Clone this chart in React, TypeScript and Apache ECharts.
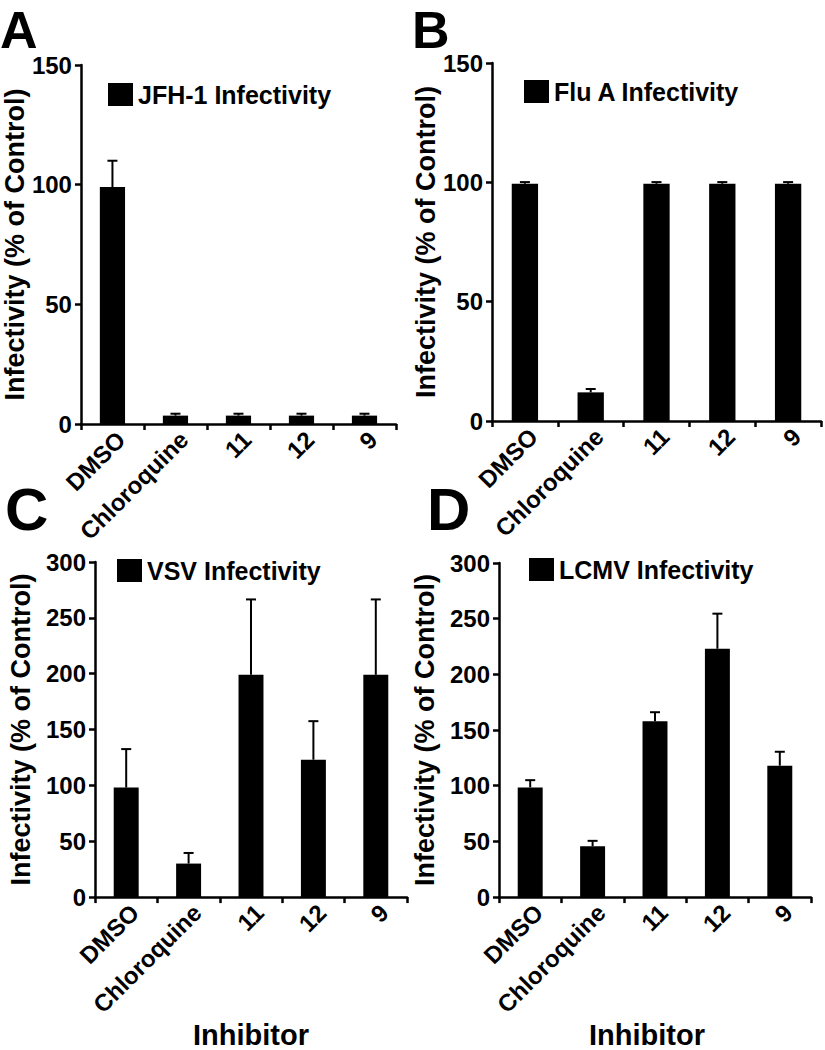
import React, { useEffect, useRef } from "react";
import * as echarts from "echarts";

const categories = ["DMSO", "Chloroquine", "11", "12", "9"];

const jfhMean = [99, 3.5, 3.5, 3.5, 3.5];
const jfhErr = [11, 0.8, 0.8, 0.8, 0.8];

const fluMean = [99.4, 12, 99.4, 99.4, 99.4];
const fluErr = [0.7, 1.4, 0.7, 0.7, 0.7];

const vsvMean = [98, 30, 199, 123, 199];
const vsvErr = [34.5, 9.5, 67.5, 34.5, 67.5];

const lcmvMean = [98.5, 45.7, 158, 223, 118];
const lcmvErr = [6.5, 4.8, 8, 31.5, 12.5];

const panelNames = ["JFH-1 Infectivity", "Flu A Infectivity", "VSV Infectivity", "LCMV Infectivity"];
const panelLetters = ["A", "B", "C", "D"];
const yMax = [150, 150, 300, 300];
const yAxisTitle = "Infectivity (% of Control)";
const xAxisTitle = "Inhibitor";

const FONT = "'Liberation Sans', Arial, Helvetica, sans-serif";

export default function App() {
  const ref = useRef<HTMLDivElement>(null);

  useEffect(() => {
    document.body.style.margin = "0";
    if (!ref.current) return;
    const chart = echarts.init(ref.current, null, { renderer: "svg" });

    const means = [jfhMean, fluMean, vsvMean, lcmvMean];
    const errs = [jfhErr, fluErr, vsvErr, lcmvErr];

    const grids = [
      { left: 80, top: 65, width: 316, height: 359 },
      { left: 492, top: 63, width: 329, height: 358 },
      { left: 95, top: 562, width: 312, height: 358 },
      { left: 499, top: 563, width: 312, height: 354 },
    ];
    const legendPos = [
      { left: 108, top: 82 },
      { left: 524, top: 79 },
      { left: 117, top: 558 },
      { left: 529, top: 557 },
    ];
    const letterPos = [
      { x: 0, y: 30 },
      { x: 412, y: 30 },
      { x: 5, y: 509 },
      { x: 427, y: 509 },
    ];
    const letterSizes = [52, 52, 60, 60];

    const axisLineStyle = { color: "#000", width: 2.5 };

    const xAxes = grids.map((_, i) => ({
      type: "category",
      gridIndex: i,
      data: categories,
      boundaryGap: true,
      axisLine: { show: true, lineStyle: axisLineStyle },
      axisTick: { show: true, inside: false, length: 6, lineStyle: { color: "#000", width: 2.5 }, alignWithLabel: false },
      axisLabel: {
        interval: 0,
        rotate: 45,
        verticalAlign: "top",
        margin: 3,
        color: "#000",
        fontSize: 24,
        fontWeight: "bold",
        fontFamily: FONT,
      },
      name: i >= 2 ? xAxisTitle : "",
      nameLocation: "middle",
      nameGap: 96,
      nameTextStyle: {
        color: "#000",
        fontSize: 29,
        fontWeight: "bold",
        fontFamily: FONT,
        padding: i === 3 ? [0, 16, 0, 0] : [0, 0, 0, 0],
      },
    }));

    const yAxes = grids.map((_, i) => ({
      type: "value",
      gridIndex: i,
      min: 0,
      max: yMax[i],
      interval: 50,
      splitLine: { show: false },
      axisLine: { show: true, lineStyle: axisLineStyle },
      axisTick: { show: true, inside: false, length: 6, lineStyle: { color: "#000", width: 2.5 } },
      axisLabel: {
        margin: 9,
        color: "#000",
        fontSize: 24,
        fontWeight: "bold",
        fontFamily: FONT,
      },
      name: yAxisTitle,
      nameLocation: "middle",
      nameRotate: 90,
      nameGap: i >= 2 ? 61 : 47,
      nameTextStyle: {
        color: "#000",
        fontSize: 27,
        fontWeight: "bold",
        fontFamily: FONT,
      },
    }));

    const series: any[] = [];
    grids.forEach((_, i) => {
      series.push({
        name: panelNames[i],
        type: "bar",
        xAxisIndex: i,
        yAxisIndex: i,
        barWidth: "40%",
        itemStyle: { color: "#000" },
        data: means[i],
        z: 2,
      });
      series.push({
        name: panelNames[i] + " error",
        type: "custom",
        xAxisIndex: i,
        yAxisIndex: i,
        z: 3,
        encode: { x: 0, y: 1 },
        data: categories.map((_, k) => [k, means[i][k], errs[i][k]]),
        renderItem: (params: any, api: any) => {
          const x = api.value(0);
          const m = api.value(1);
          const e = api.value(2);
          const base = api.coord([x, m]);
          const top = api.coord([x, m + e]);
          const half = 5;
          return {
            type: "group",
            children: [
              { type: "line", shape: { x1: base[0], y1: base[1], x2: top[0], y2: top[1] }, style: { stroke: "#000", lineWidth: 2 } },
              { type: "line", shape: { x1: top[0] - half, y1: top[1], x2: top[0] + half, y2: top[1] }, style: { stroke: "#000", lineWidth: 2 } },
            ],
          };
        },
      });
    });

    const legends = grids.map((_, i) => ({
      show: true,
      left: legendPos[i].left,
      top: legendPos[i].top,
      padding: 0,
      icon: "rect",
      itemWidth: 25,
      itemHeight: 23,
      itemGap: 0,
      selectedMode: false,
      data: [panelNames[i]],
      textStyle: { color: "#000", fontSize: 25, fontWeight: "bold", fontFamily: FONT },
    }));

    const graphics = panelLetters.map((l, i) => ({
      type: "text",
      x: letterPos[i].x,
      y: letterPos[i].y,
      style: {
        text: l,
        fill: "#000",
        font: `bold ${letterSizes[i]}px ${FONT}`,
        verticalAlign: "middle",
        align: "left",
      },
    }));

    chart.setOption({
      animation: false,
      backgroundColor: "#fff",
      grid: grids.map((g) => ({ ...g, containLabel: false })),
      xAxis: xAxes,
      yAxis: yAxes,
      legend: legends,
      series,
      graphic: graphics,
    });

    return () => chart.dispose();
  }, []);

  return <div ref={ref} style={{ width: 825, height: 1050 }} />;
}
